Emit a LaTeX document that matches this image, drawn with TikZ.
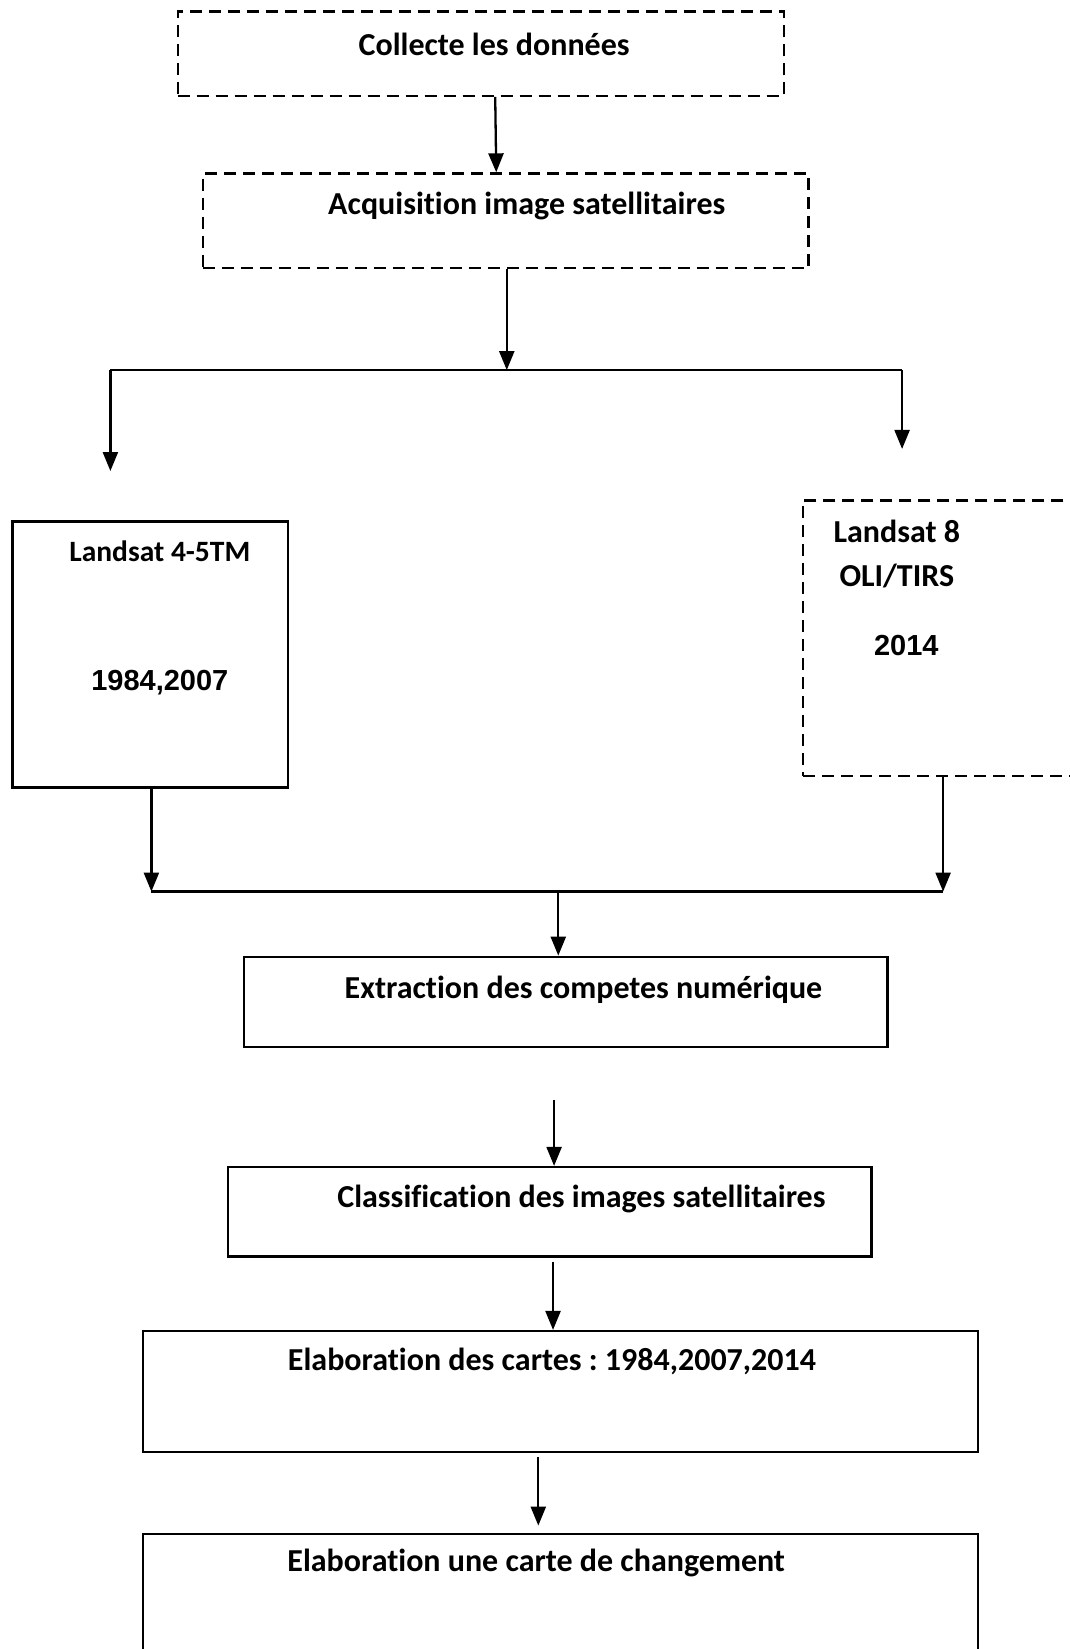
\documentclass[tikz,border=0pt]{standalone}
\usepackage{fontspec}
\setmainfont{Carlito}[Ligatures=NoCommon]
\newfontfamily\arialfont{Liberation Sans}
\usetikzlibrary{arrows.meta,fit}
\frenchspacing
\begin{document}
\begin{tikzpicture}[x=1.0514pt,y=-1.0514pt,
  box/.style={draw, line width=2.3pt, rectangle, inner sep=0pt},
  dbox/.style={box, dash pattern=on 12pt off 7pt},
  lbl/.style={font=\fontsize{32}{38}\selectfont\bfseries, inner sep=0pt},
  lbls/.style={font=\fontsize{29.5}{35}\selectfont\bfseries, inner sep=0pt},
  num/.style={font=\arialfont\fontsize{29}{34}\selectfont\bfseries, inner sep=0pt},
  arr/.style={line width=2.3pt, -{Triangle[length=19pt,width=15pt]}},
  ln/.style={line width=2.3pt}]
\useasboundingbox (0,0) rectangle (1017.7,1568.4);
\fill[white] (0,0) rectangle (1017.7,1568.4);

% boxes
\node[dbox, fit={(169,11) (746,91)}] (b1) {};
\node[lbl] (t1) at (470,42) {Collecte les données};
\node[dbox, fit={(193,165) (769,255)}] (b2) {};
\node[lbl] (t2) at (501,196) {Acquisition image satellitaires};

\node[box, fit={(12,496) (274,749)}] (bl) {};
\node[lbls] (tl1) at (152,524) {Landsat 4-5TM};
\node[num] (tl2) at (152,649) {1984,2007};

\node[dbox, fit={(764,476) (1100,738)}] (br) {};
\node[lbl] (tr1) at (853,505) {Landsat 8};
\node[lbl] (tr2) at (853,548) {OLI/TIRS};
\node[num] (tr3) at (862,614) {2014};

\node[box, fit={(232,910) (844,996)}] (b3) {};
\node[lbl] (t3) at (555,941) {Extraction des competes numérique};
\node[box, fit={(217,1110) (829,1195)}] (b4) {};
\node[lbl] (t4) at (553,1140) {Classification des images satellitaires};
\node[box, fit={(136,1266) (930,1381)}] (b5) {};
\node[lbl] (t5) at (525,1295) {Elaboration des cartes : 1984,2007,2014};
\node[box, fit={(136,1459) (930,1700)}] (b6) {};
\node[lbl] (t6) at (510,1487) {Elaboration une carte de changement};

% coordinates
\coordinate (s1) at (482,352);
\coordinate (sl) at (105,352);
\coordinate (sr) at (858,352);
\coordinate (el) at (105,448);
\coordinate (er) at (858,427);
\coordinate (ml) at (144,848);
\coordinate (mr) at (897,848);
\coordinate (mc) at (531,848);
\coordinate (c3) at (527,1046);
\coordinate (c4) at (526,1200);
\coordinate (c5) at (512,1386);
\coordinate (c6) at (512,1451);
\coordinate (a1) at (471,0);
\coordinate (a2) at (472,0);

% connectors
\draw[arr] (b1.south -| a1) -- (b2.north -| a2);
\draw[arr] (b2.south -| s1) -- (s1);
\draw[ln] (sl) -- (sr);
\draw[arr] (sl) -- (el);
\draw[arr] (sr) -- (er);
\draw[arr] (bl.south -| ml) -- (ml);
\draw[arr] (br.south -| mr) -- (mr);
\draw[ln] (ml) -- (mr);
\draw[arr] (mc) -- (b3.north -| mc);
\draw[arr] (c3) -- (b4.north -| c3);
\draw[arr] (c4) -- (b5.north -| c4);
\draw[arr] (c5) -- (c6);
\end{tikzpicture}
\end{document}
